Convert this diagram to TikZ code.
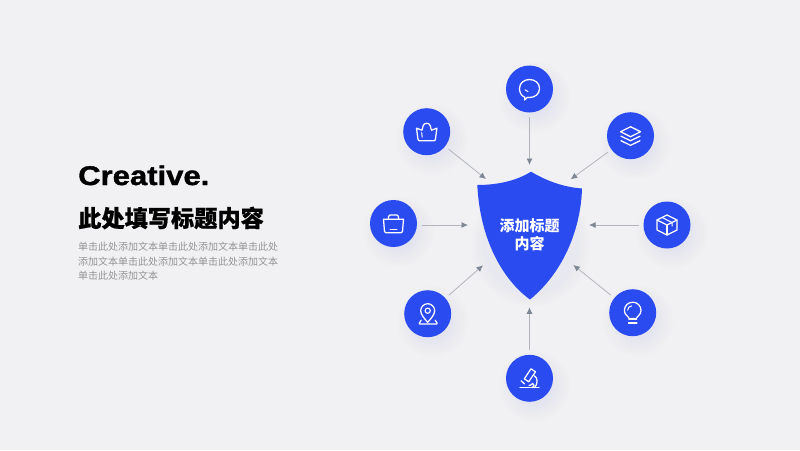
\documentclass[tikz,border=0pt]{standalone}
\usepackage{fontspec}
\setmainfont{Liberation Sans}
\newfontfamily\cjk{Noto Sans CJK SC}
\newfontfamily\cjkheavy[BoldFeatures={FakeBold=0.6}]{Noto Sans CJK SC}
\newfontfamily\headfont[BoldFeatures={FakeBold=1.4,FakeStretch=1.15}]{Liberation Sans}
\usetikzlibrary{arrows.meta}
\definecolor{bgc}{HTML}{F1F1F3}
\definecolor{blu}{HTML}{2A4BF0}
\definecolor{lin}{HTML}{B2B5BB}
\definecolor{tip}{HTML}{7E8794}
\definecolor{bodyc}{HTML}{949494}
\tikzset{
  disc/.style={circle,fill=blu,minimum size=47pt,inner sep=0pt,outer sep=4.5pt},
  link/.style={draw=lin,line width=0.8pt,-{Latex[length=6.5pt,width=6pt,color=tip]}},
  icon/.style={draw=white,line width=1.25pt,line join=round,line cap=round,fill=none},
}
\newcommand{\softshadow}[3]{%
  \foreach \rr in {0,1.5,...,18}{
    \fill[blu,opacity=0.0045] (#1+5,#2+8) circle ({#3+\rr});
  }}
\begin{document}
\begin{tikzpicture}[x=1pt,y=-1pt]
\useasboundingbox (0,0) rectangle (800,450);
\fill[bgc] (0,0) rectangle (800,450);

% shadows
\softshadow{426.7}{131.7}{18}
\softshadow{393.5}{223.5}{18}
\softshadow{529.5}{89}{18}
\softshadow{630.5}{135.7}{18}
\softshadow{667}{225}{18}
\softshadow{632.7}{312.7}{18}
\softshadow{529.5}{378.3}{18}
\softshadow{427.7}{313.7}{18}
\foreach \rr in {0,1.5,...,12}{
  \fill[blu,opacity=0.004] (531,245) ellipse ({48+\rr} and {50+\rr});
}

% shield
\fill[blu] (531,171.7) .. controls (545,180) and (562,187) .. (582,188.5)
  .. controls (581,225) and (566,270) .. (530,299.5)
  .. controls (503,280) and (480,240) .. (477.3,185)
  .. controls (497,185) and (516,181) .. (531,171.7) -- cycle;
\node[text=white,align=center,font=\cjk\bfseries\fontsize{15}{18}\selectfont,inner sep=0pt] (center) at (529.5,234.5)
  {添加标题\\内容};

% discs
\node[disc] (crown) at (426.7,131.7) {};
\node[disc] (bag) at (393.5,223.5) {};
\node[disc] (chat) at (529.5,89) {};
\node[disc] (layers) at (630.5,135.7) {};
\node[disc] (box) at (667,225) {};
\node[disc] (bulb) at (632.7,312.7) {};
\node[disc] (micro) at (529.5,378.3) {};
\node[disc] (pin) at (427.7,313.7) {};

% arrow ends
\coordinate (t1) at (486,179);
\coordinate (t2) at (468,225);
\coordinate (t3) at (529.5,165);
\coordinate (t4) at (570.7,179.3);
\coordinate (t5) at (589,225);
\coordinate (t6) at (573.3,265);
\coordinate (t7) at (529.5,307.3);
\coordinate (t8) at (483,265.3);
\draw[link] (crown) -- (t1);
\draw[link] (bag.east |- t2) -- (t2);
\draw[link] (chat) -- (t3);
\draw[link] (layers) -- (t4);
\draw[link] (box) -- (t5);
\draw[link] (bulb) -- (t6);
\draw[link] (micro) -- (t7);
\draw[link] (pin) -- (t8);

% crown icon
\begin{scope}[shift={(crown.center)}]
\draw[icon] (-7.5,9) -- (7.5,9) .. controls (8.5,9) and (8.6,8) .. (8.8,7) -- (10.2,-3.5) -- (4.8,-1.5)
  .. controls (3.8,-3) and (4.5,-8.5) .. (0,-8.5) .. controls (-4.5,-8.5) and (-3.8,-3) .. (-4.8,-1.5)
  -- (-10.2,-3.5) -- (-8.8,7) .. controls (-8.6,8) and (-8.5,9) .. (-7.5,9) -- cycle;
\draw[icon,line width=1pt] (-5,1) -- (-4.5,5.5);
\end{scope}

% chat icon
\begin{scope}[shift={(chat.center)}]
\draw[icon] (-4.6,8.4) .. controls (-9,6.5) and (-10,2.5) .. (-10,-0.5)
  .. controls (-10,-6) and (-5.5,-9.5) .. (0,-9.5)
  .. controls (5.5,-9.5) and (10,-6) .. (10,-0.5)
  .. controls (10,5) and (5.5,8.5) .. (0,8.5)
  .. controls (-1,8.5) and (-1.5,8.4) .. (-2,8.3)
  -- (-5,11) -- cycle;
\draw[icon,line width=1pt] (-4.5,0.8) -- (-1.5,2.6);
\end{scope}

% layers icon
\begin{scope}[shift={(layers.center)}]
\draw[icon] (0,-9) -- (10,-4) -- (0,1) -- (-10,-4) -- cycle;
\draw[icon] (-9.5,0.5) -- (0,5) -- (9.5,0.5);
\draw[icon] (-9.5,5) -- (0,9.7) -- (9.5,5);
\end{scope}

% box icon
\begin{scope}[shift={(box.center)}]
\draw[icon] (0,-10) -- (10,-5) -- (10,5) -- (0,10) -- (-10,5) -- (-10,-5) -- cycle;
\draw[icon] (-10,-5) -- (0,0) -- (10,-5);
\draw[icon] (0,0) -- (0,10);
\draw[icon,line width=1pt] (-4.8,-7.5) -- (5,-2.5) -- (5,1);
\end{scope}

% bulb icon
\begin{scope}[shift={(bulb.center)}]
\draw[icon] (-3.8,5.7) .. controls (-4,3.5) and (-8.3,2.5) .. (-8.3,-2.3)
  .. controls (-8.3,-7) and (-4.5,-10.5) .. (0,-10.5)
  .. controls (4.5,-10.5) and (8.3,-7) .. (8.3,-2.3)
  .. controls (8.3,2.5) and (4,3.5) .. (3.8,5.7) -- cycle;
\draw[icon] (-3.8,7) -- (3.8,7);
\draw[icon] (-4.2,10.3) -- (4.2,10.3);
\draw[icon,line width=1pt] (-5,-2.5) .. controls (-5,-5) and (-3.5,-6.5) .. (-1,-6.8);
\end{scope}

% microscope icon
\begin{scope}[shift={(micro.center)}]
\draw[icon] (-9.5,9.3) -- (9.5,9.3);
\draw[icon] (-5.2,0.5) -- (1.5,-9.5) -- (6,-6.5) -- (-0.8,3.5) -- cycle;
\draw[icon] (-8.5,2.5) -- (-5,5.5);
\draw[icon] (4.8,-2.5) .. controls (8.5,-1) and (8.5,6) .. (5,9.3);
\draw[icon] (-0.5,7) -- (1,7) .. controls (2,4.5) and (4.5,4.5) .. (4.5,7) .. controls (4.5,8) and (4,9) .. (3,9.3);
\end{scope}

% pin icon
\begin{scope}[shift={(pin.center)}]
\draw[icon] (0,8.7) .. controls (-3,5) and (-7,1) .. (-7,-3)
  .. controls (-7,-7) and (-3.5,-10) .. (0,-10)
  .. controls (3.5,-10) and (7,-7) .. (7,-3)
  .. controls (7,1) and (3,5) .. (0,8.7) -- cycle;
\draw[icon,line width=1.1pt] (0,-3) circle (2.6);
\draw[icon,rounded corners=1pt] (-6.5,6.5) -- (-9,10.3) -- (10,10.3) -- (7.5,6.5);
\end{scope}

% bag icon
\begin{scope}[shift={(bag.center)}]
\draw[icon] (-10,-4.3) -- (10,-4.3) -- (9,8) .. controls (9,9) and (8.5,9.3) .. (7.5,9.3)
  -- (-7.5,9.3) .. controls (-8.5,9.3) and (-9,9) .. (-9,8) -- cycle;
\draw[icon] (-5,-4.3) -- (-5,-7) .. controls (-5,-8) and (-4.5,-8.5) .. (-3.5,-8.5)
  -- (3.5,-8.5) .. controls (4.5,-8.5) and (5,-8) .. (5,-7) -- (5,-4.3);
\draw[icon] (-3.3,6) -- (3.3,6);
\end{scope}

% left text
\node[anchor=base west,inner sep=0pt] (head) at (78,185)
  {\headfont\bfseries\fontsize{27}{30}\selectfont Creative.};
\node[anchor=west,inner sep=0pt,font=\cjkheavy\bfseries\fontsize{23.2}{26}\selectfont] (title) at (78,218)
  {此处填写标题内容};
\node[anchor=north west,inner sep=0pt,align=left,text=bodyc,font=\cjk\fontsize{10}{14.5}\selectfont] (body) at (78,242.3)
  {单击此处添加文本单击此处添加文本单击此处\\
   添加文本单击此处添加文本单击此处添加文本\\
   单击此处添加文本};
\end{tikzpicture}
\end{document}
